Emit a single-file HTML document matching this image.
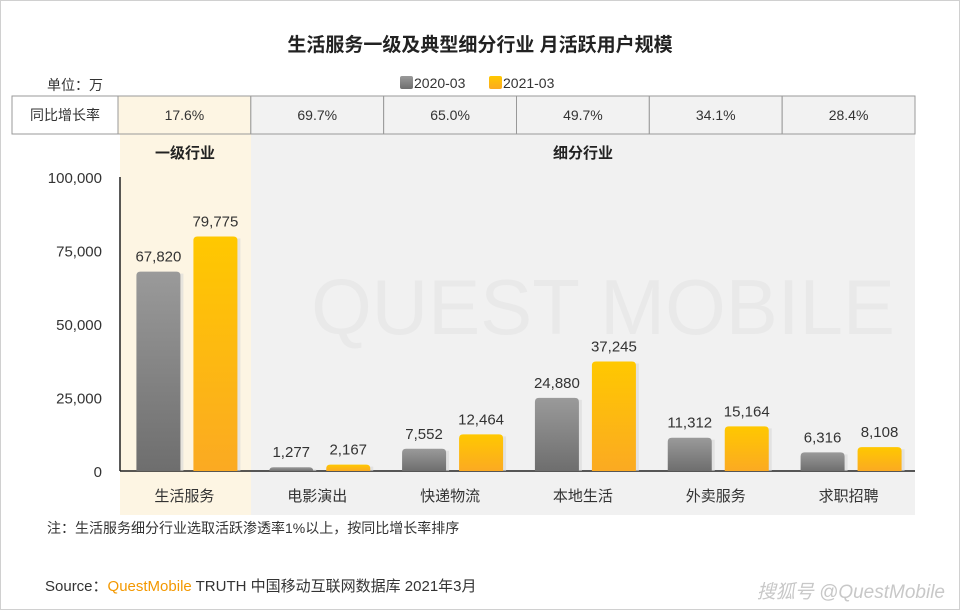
<!DOCTYPE html>
<html><head><meta charset="utf-8"><style>
body{margin:0;background:#fff;}
svg text{font-family:"Liberation Sans","Noto Sans CJK SC",sans-serif;}
</style></head><body>
<svg width="960" height="610" viewBox="0 0 960 610">
<defs>
<linearGradient id="gg" x1="0" y1="0" x2="0" y2="1"><stop offset="0" stop-color="#9a9a9a"/><stop offset="1" stop-color="#6e6e6e"/></linearGradient>
<linearGradient id="yg" x1="0" y1="0" x2="0" y2="1"><stop offset="0" stop-color="#ffc800"/><stop offset="1" stop-color="#fbaa22"/></linearGradient>
</defs>
<rect x="0.5" y="0.5" width="959" height="609" fill="#fff" stroke="#d0d0d0"/>
<text x="480" y="51" text-anchor="middle" font-size="19" font-weight="bold" fill="#222">生活服务一级及典型细分行业 月活跃用户规模</text>
<text x="47" y="90" font-size="14" fill="#333">单位：万</text>
<g>
<rect x="400" y="76" width="13" height="13" rx="2" fill="url(#gg)"/>
<text x="414" y="88" font-size="14" fill="#333">2020-03</text>
<rect x="489" y="76" width="13" height="13" rx="2" fill="url(#yg)"/>
<text x="503" y="88" font-size="14" fill="#333">2021-03</text>
</g>
<rect x="120" y="134" width="131" height="381" fill="#fdf5e3"/>
<rect x="251" y="134" width="664" height="381" fill="#f1f1f1"/>
<text x="603" y="334" text-anchor="middle" font-size="78" fill="#e9e9e9">QUEST MOBILE</text>
<text x="185" y="158" text-anchor="middle" font-size="15" font-weight="bold" fill="#222">一级行业</text>
<text x="583" y="158" text-anchor="middle" font-size="15" font-weight="bold" fill="#222">细分行业</text>
<g id="table"></g>
<g id="axis"></g>
<g id="bars"></g>
<text x="47" y="533" font-size="14" fill="#333">注：生活服务细分行业选取活跃渗透率1%以上，按同比增长率排序</text>
<text x="45" y="591" font-size="15" fill="#333">Source：<tspan fill="#f39800">QuestMobile</tspan> TRUTH 中国移动互联网数据库 2021年3月</text>
<text x="945" y="598" text-anchor="end" font-size="19" fill="#c8c8c8" font-style="italic">搜狐号 @QuestMobile</text>
</svg>
<script>
const categories=["生活服务","电影演出","快递物流","本地生活","外卖服务","求职招聘"];
const values2020=[67820,1277,7552,24880,11312,6316];
const values2021=[79775,2167,12464,37245,15164,8108];
const growth=["17.6%","69.7%","65.0%","49.7%","34.1%","28.4%"];
const yTicks=[0,25000,50000,75000,100000];
const NS="http://www.w3.org/2000/svg";
function mk(p,t,a,txt){const e=document.createElementNS(NS,t);for(const k in a)e.setAttribute(k,a[k]);if(txt!=null)e.textContent=txt;p.appendChild(e);return e;}
const x0=118,x1=915,y0=471,y1=177;
const bw=(x1-x0)/categories.length;
const X=i=>x0+bw*(i+0.5);
const Y=v=>y0-(v/100000)*(y0-y1);
const fmt=v=>v.toLocaleString("en-US");
const tb=document.getElementById("table");
let c=mk(tb,"rect",{x:12,y:96,width:106,height:38,fill:"#fff",stroke:"#999"});


let t=mk(tb,"text",{x:65,y:120,"text-anchor":"middle","font-size":14,fill:"#333"},"同比增长率");


growth.forEach((g,i)=>{
 const r=mk(tb,"rect",{x:x0+bw*i,y:96,width:bw,height:38,fill:i==0?"#fdf5e3":"#f2f2f2",stroke:"#999"});
 
 
 const tx=mk(tb,"text",{x:X(i),y:120,"text-anchor":"middle","font-size":14,fill:"#333"},g);
 
 
});
const ax=document.getElementById("axis");
yTicks.forEach(v=>{
 const tt=mk(ax,"text",{x:102,y:Y(v)+6,"text-anchor":"end","font-size":15,fill:"#333"},fmt(v));
 
 
});
let l=mk(ax,"line",{x1:120,y1:y1,x2:120,y2:y0,stroke:"#222","stroke-width":1.5});


l=mk(ax,"line",{x1:120,y1:y0,x2:x1,y2:y0,stroke:"#222","stroke-width":1.5});


const bg=document.getElementById("bars");
categories.forEach((cat,i)=>{
 [[values2020[i],-48,"url(#gg)","2020"],[values2021[i],9,"url(#yg)","2021"]].forEach(([v,off,f,s])=>{
  const bx=X(i)+off, by=Y(v);
  const sh=mk(bg,"rect",{x:bx+3,y:by+2,width:44,height:y0-by-2,fill:"#d8d8d8",opacity:0.6});
  
  
  const b=mk(bg,"path",{d:`M${bx},${y0}V${by+4}Q${bx},${by} ${bx+4},${by}H${bx+40}Q${bx+44},${by} ${bx+44},${by+4}V${y0}Z`,fill:f});
  
  
  const lb=mk(bg,"text",{x:bx+22,y:by-10,"text-anchor":"middle","font-size":15,fill:"#333"},fmt(v));
  
  
 });
 const cl=mk(bg,"text",{x:X(i),y:501,"text-anchor":"middle","font-size":15,fill:"#333"},cat);
 
 
});
</script>
</body></html>
